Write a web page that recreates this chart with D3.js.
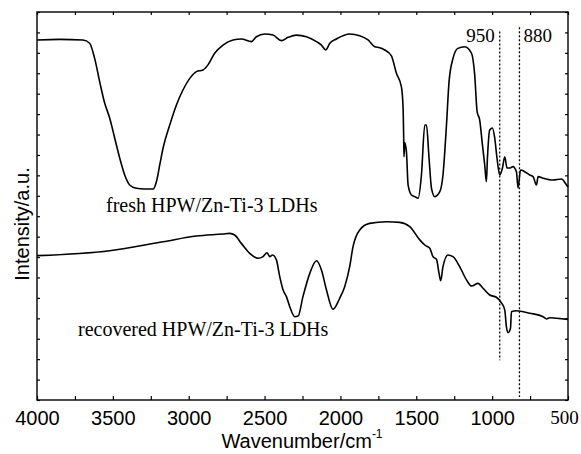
<html>
<script src='https://d3js.org/d3.v7.min.js'></script>
<style>
body {margin:0; background:#fff;}
.tick line {stroke:#000; stroke-width:1.2;}
.domain {stroke:none;}
.curve {fill:none; stroke:#000; stroke-width:1.6; stroke-linejoin:round;}
</style>
<body onload='init()'>
<svg width=581 height=454></svg>
<script>
// FT-IR spectra, [wavenumber cm-1, intensity a.u.]
var freshSpectrum = [
 [4000,17.63],[3850,17.66],[3697,17.63],[3653,17.47],[3620,16.73],[3587,15.59],[3554,14.54],
 [3521,13.81],[3488,12.83],[3455,11.85],[3422,11.02],[3389,10.53],[3345,10.37],[3290,10.33],
 [3235,10.33],[3213,10.69],[3191,11.51],[3169,12.34],[3125,13.47],[3081,14.45],[3038,15.18],
 [2993,15.75],[2949,16.08],[2906,16.16],[2873,16.41],[2829,16.98],[2774,17.38],[2708,17.63],
 [2653,17.68],[2587,17.55],[2554,17.79],[2499,17.92],[2444,17.87],[2389,17.60],[2345,17.76],
 [2290,17.87],[2224,17.79],[2158,17.55],[2125,17.38],[2097,17.14],[2070,17.47],[2026,17.68],
 [1939,17.92],[1873,17.84],[1818,17.63],[1774,17.30],[1741,17.25],[1708,17.14],[1664,16.85],
 [1631,16.00],[1598,15.33],[1587,14.30],[1583,12.83],[1581,11.91],[1576,12.59],[1565,12.16],
 [1554,10.53],[1532,10.04],[1510,9.96],[1488,9.88],[1466,11.02],[1444,13.47],[1433,13.47],
 [1416,11.85],[1400,10.38],[1378,9.96],[1345,10.20],[1324,11.02],[1301,13.47],[1284,15.59],
 [1258,16.73],[1226,17.22],[1181,17.30],[1136,16.98],[1115,15.92],[1099,14.12],[1082,13.71],
 [1064,12.49],[1049,11.51],[1038,10.69],[1031,11.85],[1016,13.22],[998,13.32],[983,12.83],
 [968,11.85],[950,11.02],[932,11.36],[917,11.91],[902,11.36],[884,11.36],[863,11.43],
 [840,11.18],[829,10.38],[813,11.26],[785,11.18],[752,11.02],[730,10.94],[708,10.53],
 [697,10.94],[664,10.86],[599,10.77],[543,10.82],[510,10.53],[500,10.43]
];
var recoveredSpectrum = [
 [4000,7.07],[3521,7.31],[3169,7.75],[2949,8.03],[2774,8.13],[2730,8.16],[2697,8.08],
 [2653,7.67],[2598,7.18],[2543,6.94],[2510,7.02],[2484,7.21],[2466,7.02],[2448,7.10],
 [2422,6.86],[2400,6.04],[2378,5.39],[2356,5.06],[2334,4.57],[2301,4.08],[2279,4.11],
 [2247,5.06],[2202,6.20],[2158,6.82],[2125,6.37],[2092,5.39],[2049,4.44],[2005,4.98],
 [1972,5.55],[1939,6.53],[1917,7.51],[1873,8.33],[1807,8.65],[1697,8.73],[1609,8.70],
 [1543,8.49],[1477,7.84],[1444,7.59],[1411,7.43],[1390,7.02],[1367,6.89],[1350,6.20],
 [1339,5.84],[1324,6.53],[1291,7.10],[1258,7.02],[1214,6.53],[1169,5.88],[1136,5.58],
 [1093,5.71],[1060,5.47],[1016,5.14],[972,5.03],[939,4.76],[917,4.41],[906,3.59],
 [895,3.30],[879,3.51],[873,4.32],[840,4.37],[752,4.25],[664,4.08],[642,3.97],
 [620,4.03],[576,4.00],[500,3.95]
];
var seriesLabels = ["fresh HPW/Zn-Ti-3 LDHs", "recovered HPW/Zn-Ti-3 LDHs"];
var markerWavenumbers = [950, 820];
var markerLabels = ["950", "880"];
var xTicks = d3.range(4000, 499, -250);
var xLabels = [4000, 3500, 3000, 2500, 2000, 1500, 1000, 500];

function init() {
  var left = 37, right = 568, top = 12, bottom = 400;
  var svg = d3.select("svg");

  var x = d3.scaleLinear().domain([4000, 500]).range([left, right]);
  var y = d3.scaleLinear().domain([0, 19]).range([bottom, top]);

  var xAxis = d3.axisBottom(x).tickValues(xTicks).tickSize(-4).tickPadding(11)
    .tickFormat(function(d) { return xLabels.indexOf(d) >= 0 ? d : ""; });
  var gx = svg.append("g").attr("transform", "translate(0," + bottom + ")").call(xAxis);
  gx.selectAll("text").style("font-family", "Arial, 'Liberation Sans', sans-serif")
    .style("font-size", "20px").attr("fill", "#000");
  gx.selectAll("text").filter(function(d) { return d == 500; })
    .style("font-family", "'Liberation Serif', 'Times New Roman', serif")
    .style("font-size", "19px").attr("dx", -4);

  svg.append("g").attr("transform", "translate(0," + top + ")")
    .call(d3.axisTop(x).tickValues(xTicks).tickSize(-3).tickFormat(""));
  svg.append("g").attr("transform", "translate(" + left + ",0)")
    .call(d3.axisLeft(y).ticks(19).tickSize(-3).tickFormat(""));
  svg.append("g").attr("transform", "translate(" + right + ",0)")
    .call(d3.axisRight(y).ticks(19).tickSize(-3).tickFormat(""));

  svg.append("rect").attr("x", left).attr("y", top)
    .attr("width", right - left).attr("height", bottom - top)
    .attr("fill", "none").attr("stroke", "#000").attr("stroke-width", 1.4);

  var line = d3.line().x(function(d) { return x(d[0]); }).y(function(d) { return y(d[1]); })
    .curve(d3.curveMonotoneX);
  svg.append("path").datum(freshSpectrum).attr("class", "curve").attr("d", line);
  svg.append("path").datum(recoveredSpectrum).attr("class", "curve").attr("d", line);

  // marker lines
  var markerSpan = [[18.05, 1.95], [18.25, 0.15]];
  markerWavenumbers.forEach(function(w, i) {
    svg.append("line").attr("x1", x(w)).attr("x2", x(w))
      .attr("y1", y(markerSpan[i][0])).attr("y2", y(markerSpan[i][1]))
      .attr("stroke", "#000").attr("stroke-width", 1.3).attr("stroke-dasharray", "2,2");
  });
  var serif = "'Liberation Serif', 'Times New Roman', serif";
  svg.append("text").attr("x", x(markerWavenumbers[0]) - 5).attr("y", 42)
    .attr("text-anchor", "end").style("font-family", serif).style("font-size", "19px").text(markerLabels[0]);
  svg.append("text").attr("x", x(markerWavenumbers[1]) + 4).attr("y", 42)
    .style("font-family", serif).style("font-size", "19px").text(markerLabels[1]);

  svg.append("text").attr("x", 106).attr("y", 212).style("font-family", serif)
    .style("font-size", "20px").text(seriesLabels[0]);
  svg.append("text").attr("x", 78).attr("y", 336).style("font-family", serif)
    .style("font-size", "20px").text(seriesLabels[1]);

  var sans = "Arial, 'Liberation Sans', sans-serif";
  var xt = svg.append("text").attr("x", 302).attr("y", 448).attr("text-anchor", "middle")
    .style("font-family", sans).style("font-size", "20px");
  xt.append("tspan").text("Wavenumber/cm");
  xt.append("tspan").attr("dy", -10).style("font-size", "12px").text("-1");

  svg.append("text").attr("transform", "translate(29,224) rotate(-90)")
    .attr("text-anchor", "middle").style("font-family", sans).style("font-size", "20px")
    .text("Intensity/a.u.");
}
</script>
</body>
</html>
